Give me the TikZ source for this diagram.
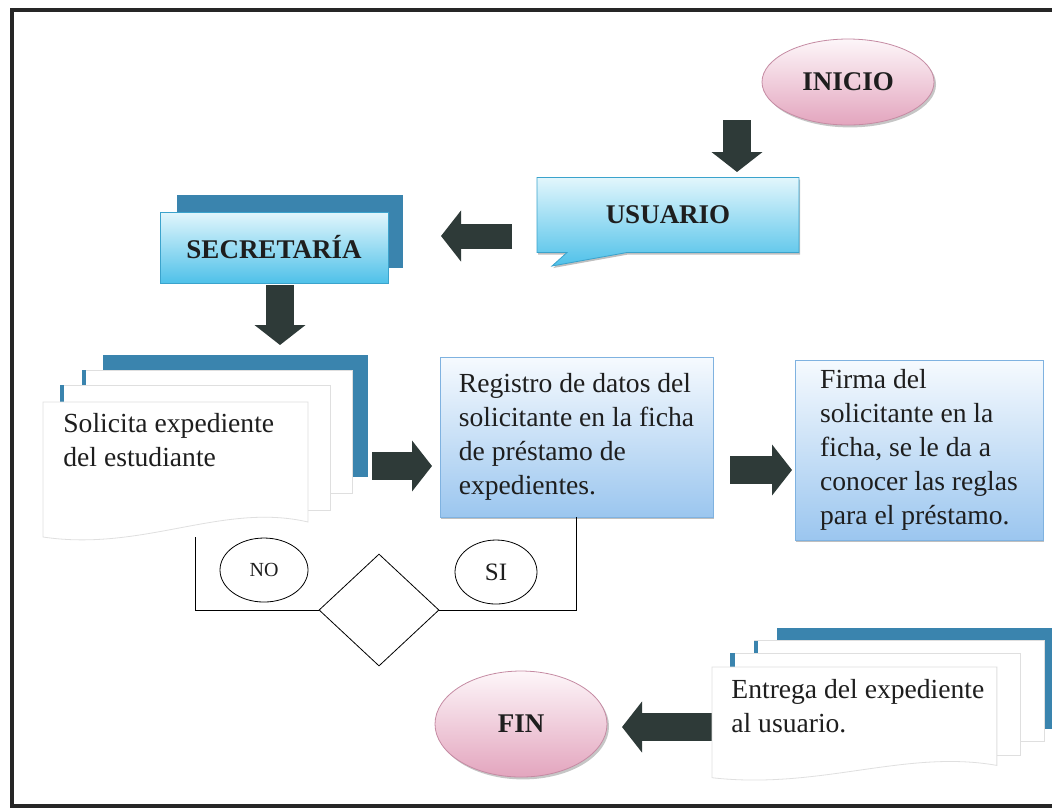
\documentclass[tikz,border=0pt]{standalone}
\usepackage{fontspec}
\setmainfont{Liberation Serif}
\usetikzlibrary{shapes.geometric,shapes.callouts,shadows,arrows.meta}

\definecolor{pinktop}{HTML}{FDF6F9}
\definecolor{pinkbot}{HTML}{E3A5BE}
\definecolor{pinkline}{HTML}{C58BA3}
\definecolor{skytop}{HTML}{E2F6FC}
\definecolor{skybot}{HTML}{4FC1E9}
\definecolor{skyline}{HTML}{3BA3CC}
\definecolor{palesky}{HTML}{F6FAFE}
\definecolor{lightsky}{HTML}{9BC6EF}
\definecolor{paleline}{HTML}{7FB2E0}
\definecolor{docblue}{HTML}{3A84AE}
\definecolor{arrowgray}{HTML}{2E3A38}
\definecolor{ink}{HTML}{1E1E1E}

\tikzset{
  textfont/.style={font=\fontsize{13.8}{17}\selectfont, text=ink},
  titlefont/.style={font=\bfseries\fontsize{13.5}{17}\selectfont, text=ink},
  terminal/.style={shape=ellipse, draw=pinkline, top color=pinktop, bottom color=pinkbot, titlefont,
    drop shadow={shadow xshift=1pt, shadow yshift=-1.2pt, opacity=0.45}},
  skybox/.style={draw=skyline, top color=skytop, bottom color=skybot, titlefont},
  processbox/.style={draw=paleline, top color=palesky, bottom color=lightsky, textfont, align=left,
    drop shadow={shadow xshift=0.6pt, shadow yshift=-1pt, opacity=0.5}},
  answer/.style={shape=ellipse, draw, text=ink},
  blockarrow/.style={arrowgray, line width=#1, -{Triangle[length=10pt, width=25pt]}},
  blockarrow/.default=14pt,
  docstack/.pic={
    \fill[docblue] (60,-47) rectangle (325,75);
    \filldraw[draw=gray!25, fill=white] (39,-32) rectangle (309,91);
    \fill[docblue] (39,-32) rectangle (43,-17);
    \filldraw[draw=gray!25, fill=white] (17,-17) rectangle (287,108);
    \fill[docblue] (17,-17) rectangle (21,0);
    \filldraw[draw=gray!25, fill=white] (0,0) -- (265,0) -- (265,120)
      .. controls (180,100) and (100,150) .. (0,135) -- cycle;
  }
}

\begin{document}
\begin{tikzpicture}[x=0.5pt, y=-0.5pt]
  \useasboundingbox (0,0) rectangle (1052,811);
  \draw[line width=2pt, black!85] (12,10) rectangle (1070,806);

  \node (inicio) at (848,82) [terminal, minimum width=86pt, minimum height=43pt] {INICIO};
  \node (usuario) at (668,215) [skybox, shape=rectangle callout, minimum width=131pt, minimum height=37.5pt,
    callout absolute pointer={(552,266)}, callout pointer width=30pt,
    drop shadow={shadow xshift=0.6pt, shadow yshift=-1pt, opacity=0.5}] {USUARIO};
  \fill[docblue] (177,195) rectangle (403,268);
  \node (secretaria) at (274,247.5) [skybox, minimum width=114pt, minimum height=35.5pt] {SECRETARÍA};

  \pic at (43,402) {docstack};
  \node (solicita) at (63,413) [textfont, anchor=north west, align=left, inner sep=0pt] {Solicita expediente\\del estudiante};
  \node (registro) at (576.5,437) [processbox, minimum width=136.5pt, minimum height=80pt] {Registro de datos del\\solicitante en la ficha\\de préstamo de\\expedientes.};
  \node (firma) at (919,450) [processbox, minimum width=124pt, minimum height=90pt] {Firma del\\solicitante en la\\ficha, se le da a\\conocer las reglas\\para el préstamo.};

  \coordinate (solbot) at (195,537);
  \node (decision) at (379,610) [shape=diamond, draw, minimum width=60pt, minimum height=56pt, inner sep=0pt] {};
  \node (no) at (264,570) [answer, minimum width=44pt, minimum height=32pt, font=\fontsize{10}{12}\selectfont] {NO};
  \node (si) at (496,572) [answer, minimum width=41pt, minimum height=32pt, font=\fontsize{12.5}{14}\selectfont] {SI};
  \draw (solbot) |- (decision.west);
  \draw (decision.east) -| (registro.south);

  \node (fin) at (521,724) [terminal, minimum width=86pt, minimum height=53pt] {FIN};

  \coordinate (a1) at (737,120);
  \coordinate (b1) at (737,172);
  \coordinate (a2) at (512,236);
  \coordinate (b2) at (441,236);
  \coordinate (a3) at (280,285);
  \coordinate (b3) at (280,345);
  \coordinate (a4) at (372,466);
  \coordinate (b4) at (432,466);
  \coordinate (a5) at (730,470);
  \coordinate (b5) at (792,470);
  \coordinate (a6) at (720,727);
  \coordinate (b6) at (622,727);
  \draw[blockarrow] (a1) -- (b1);
  \draw[blockarrow=12.5pt] (a2) -- (b2);
  \draw[blockarrow] (a3) -- (b3);
  \draw[blockarrow] (a4) -- (b4);
  \draw[blockarrow] (a5) -- (b5);
  \draw[blockarrow] (a6) -- (b6);

  \pic[xscale=1.075, yscale=0.82] at (712,667) {docstack};
  \node (entrega) at (731,679) [textfont, anchor=north west, align=left, inner sep=0pt] {Entrega del expediente\\al usuario.};
\end{tikzpicture}
\end{document}
